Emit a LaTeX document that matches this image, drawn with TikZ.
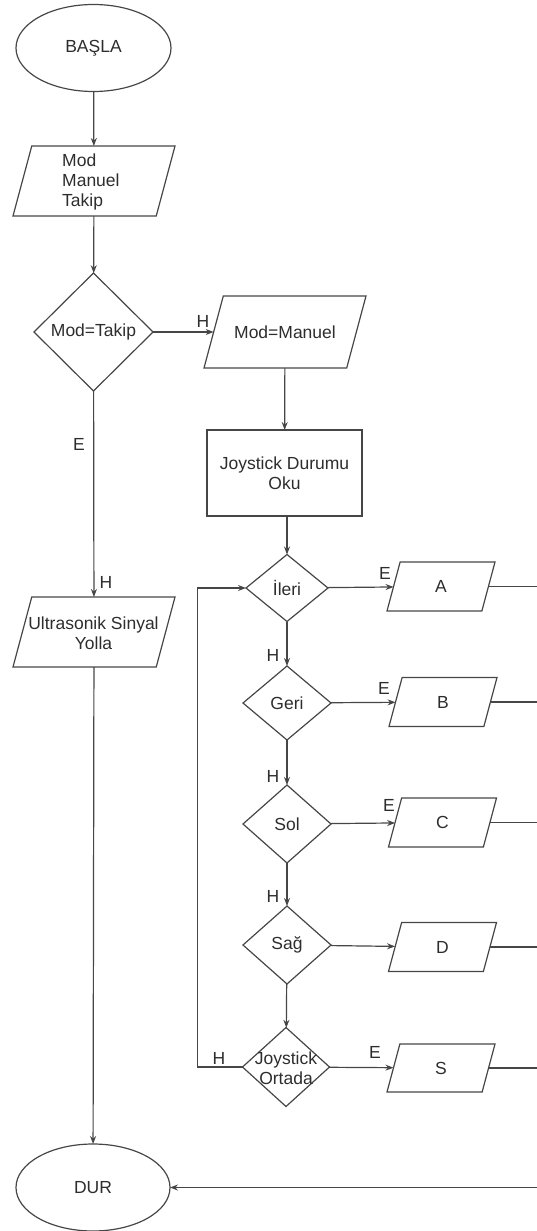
\documentclass[tikz,border=0pt]{standalone}
\usepackage{fontspec}
\setmainfont{Liberation Sans}
\usetikzlibrary{shapes.geometric,arrows.meta}
\definecolor{lncol}{RGB}{70,70,70}
\definecolor{txcol}{RGB}{45,45,45}
% parallelogram: name, x, y, overall width, height, text
\newcommand\paranode[6]{%
  \node[pbox, minimum width={#4-0.268*#5}, minimum height=#5] (#1) at (#2,#3) {#6};
  \draw[wire, line join=miter] ([xshift={0.134*#5}]#1.north west) -- ([xshift={0.134*#5}]#1.north east)
     -- ([xshift={-0.134*#5}]#1.south east) -- ([xshift={-0.134*#5}]#1.south west) -- cycle;}
\begin{document}
\begin{tikzpicture}[x=1pt,y=-1pt,
  every node/.style={text=txcol, font=\fontsize{17.5}{20}\selectfont},
  base/.style={draw=lncol, line width=1.2pt, inner sep=0pt, outer sep=0pt},
  term/.style={base, ellipse},
  pbox/.style={inner sep=0pt, outer sep=0pt, rectangle, align=center},
  proc/.style={base, rectangle, align=center},
  dec/.style={base, diamond},
  wire/.style={draw=lncol, line width=1.2pt},
  arr/.style={wire, -{Stealth[length=8pt,width=6pt]}},
  lbl/.style={inner sep=0pt}
]
\useasboundingbox (0,0) rectangle (537,1231);

% left column
\node[term, minimum width=155, minimum height=87] (start) at (93.5,48) {BAŞLA};
\paranode{inp}{94}{181}{162}{70}{}
\node[lbl, anchor=west, align=left] (inptx) at (62,181.5) {Mod\\Manuel\\Takip};
\node[dec, minimum width=119, minimum height=118] (modt) at (93.5,332) {Mod=Takip};
\paranode{ultra}{94}{632}{162}{70}{}
\node[lbl, align=center] (ultratx) at (93.5,633) {Ultrasonik Sinyal\\Yolla};
\node[term, minimum width=154, minimum height=87] (dur) at (93,1187.5) {DUR};

% right column
\paranode{man}{285}{332}{162}{72}{Mod=Manuel}
\node[proc, minimum width=155, minimum height=86] (joy) at (284.5,473) {Joystick Durumu\\Oku};
\node[dec, minimum width=82, minimum height=67] (ileri) at (287,588) {İleri};
\node[dec, minimum width=88, minimum height=74] (geri) at (287,703) {Geri};
\node[dec, minimum width=88, minimum height=78] (sol) at (287,824) {Sol};
\node[dec, minimum width=88, minimum height=78] (sag) at (287,945) {Sağ};
\node[dec, minimum width=87, minimum height=79] (ort) at (286,1067) {};
\node[lbl, align=center] (orttx) at (286,1068) {Joystick\\Ortada};

% outputs
\paranode{A}{441}{586.5}{108}{49}{A}
\paranode{B}{443}{702}{108}{49}{B}
\paranode{C}{442.5}{822.5}{108}{49}{C}
\paranode{D}{442.5}{947}{108}{49}{D}
\paranode{S}{441}{1068}{108}{48}{S}

\coordinate (rx) at (537,0);
\coordinate (rb) at (537,1187.5);

% connectors
\draw[arr] (start) -- (inp);
\draw[arr] (inp) -- (modt);
\draw[arr] (modt) -- (man);
\draw[arr] (modt) -- (ultra);
\draw[arr] (ultra) -- (dur);
\draw[arr] (man) -- (joy);
\draw[arr] (joy.south -| ileri.north) -- (ileri);
\draw[arr] (ileri) -- (geri);
\draw[arr] (geri) -- (sol);
\draw[arr] (sol) -- (sag);
\draw[arr] (sag) -- (ort);
\draw[arr] (ileri) -- (A);
\draw[arr] (geri) -- (B);
\draw[arr] (sol) -- (C);
\draw[arr] (sag) -- (D);
\draw[arr] (ort) -- (S);
\draw[arr] (ort.west) -- ++(-45,0) |- (ileri.west);
\foreach \n in {A,B,C,D,S} \draw[wire] (\n.east) -- (\n.east -| rx);
\draw[arr] (rb) -- (dur.east);

% labels
\node[lbl] at (203,321) {H};
\node[lbl] at (79,444) {E};
\node[lbl] at (106,582) {H};
\node[lbl] at (385,573) {E};
\node[lbl] at (273,655) {H};
\node[lbl] at (384,688) {E};
\node[lbl] at (273,776) {H};
\node[lbl] at (389,805) {E};
\node[lbl] at (273,896) {H};
\node[lbl] at (219,1058) {H};
\node[lbl] at (375,1052) {E};
\end{tikzpicture}
\end{document}
